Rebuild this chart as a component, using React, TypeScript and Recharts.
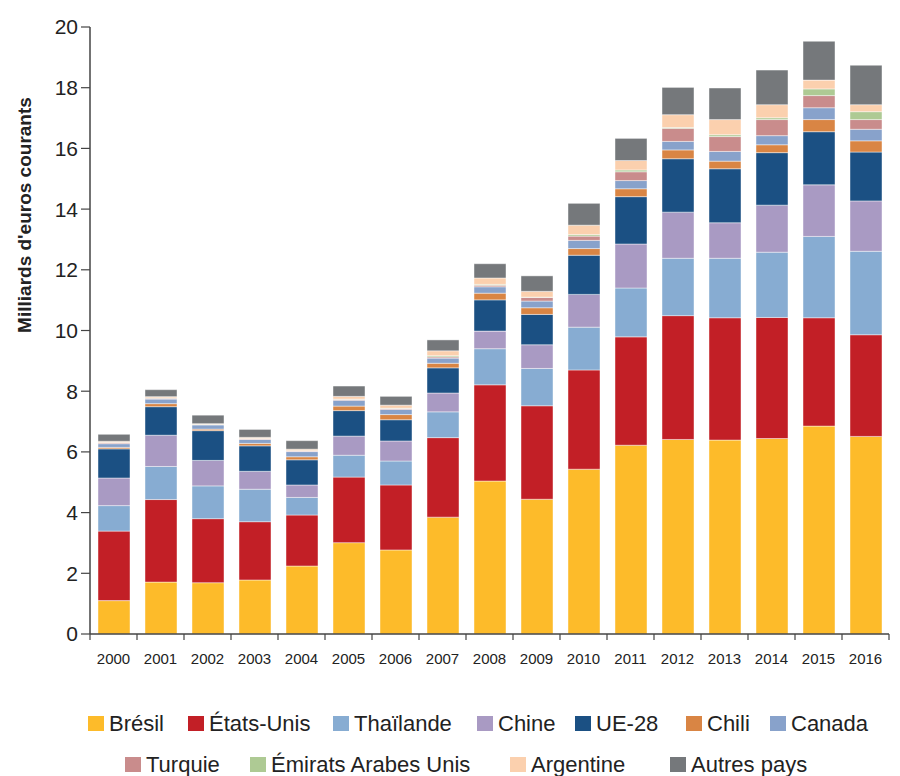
import React from 'react';
import { BarChart, Bar, XAxis, YAxis } from 'recharts';

const YEARS = ['2000', '2001', '2002', '2003', '2004', '2005', '2006', '2007', '2008', '2009', '2010', '2011', '2012', '2013', '2014', '2015', '2016'];

const BRESIL = [1.10, 1.71, 1.69, 1.78, 2.24, 3.01, 2.77, 3.85, 5.04, 4.44, 5.43, 6.22, 6.41, 6.39, 6.44, 6.85, 6.51];
const ETATS_UNIS = [2.29, 2.72, 2.11, 1.92, 1.68, 2.16, 2.14, 2.62, 3.17, 3.08, 3.27, 3.57, 4.08, 4.03, 3.99, 3.57, 3.35];
const THAILANDE = [0.84, 1.09, 1.08, 1.07, 0.58, 0.72, 0.79, 0.85, 1.19, 1.23, 1.41, 1.61, 1.89, 1.96, 2.15, 2.68, 2.75];
const CHINE = [0.91, 1.03, 0.84, 0.59, 0.41, 0.63, 0.66, 0.62, 0.58, 0.78, 1.08, 1.45, 1.52, 1.17, 1.55, 1.70, 1.66];
const UE28 = [0.96, 0.94, 0.98, 0.84, 0.83, 0.84, 0.70, 0.83, 1.03, 1.00, 1.29, 1.56, 1.76, 1.78, 1.73, 1.75, 1.61];
const CHILI = [0.05, 0.10, 0.05, 0.08, 0.10, 0.15, 0.17, 0.15, 0.22, 0.22, 0.22, 0.26, 0.29, 0.25, 0.26, 0.40, 0.37];
const CANADA = [0.12, 0.15, 0.14, 0.13, 0.17, 0.19, 0.17, 0.17, 0.21, 0.22, 0.27, 0.27, 0.28, 0.32, 0.30, 0.39, 0.38];
const TURQUIE = [0.03, 0.03, 0.01, 0.02, 0.02, 0.03, 0.03, 0.04, 0.05, 0.12, 0.14, 0.29, 0.43, 0.49, 0.53, 0.40, 0.32];
const EMIRATS = [0.01, 0.01, 0.01, 0.01, 0.01, 0.01, 0.01, 0.04, 0.03, 0.01, 0.05, 0.06, 0.03, 0.06, 0.06, 0.22, 0.26];
const ARGENTINE = [0.04, 0.04, 0.02, 0.04, 0.05, 0.09, 0.10, 0.16, 0.21, 0.19, 0.31, 0.31, 0.42, 0.50, 0.43, 0.29, 0.23];
const AUTRES = [0.23, 0.23, 0.28, 0.26, 0.28, 0.34, 0.29, 0.36, 0.47, 0.51, 0.72, 0.73, 0.90, 1.04, 1.14, 1.28, 1.30];

const Y_TICKS = [0, 2, 4, 6, 8, 10, 12, 14, 16, 18, 20];

const SERIES = [
  { key: 'bresil', name: 'Brésil', values: BRESIL, color: '#FDBB2A' },
  { key: 'us', name: 'États-Unis', values: ETATS_UNIS, color: '#C21F26' },
  { key: 'thai', name: 'Thaïlande', values: THAILANDE, color: '#87ACD2' },
  { key: 'chine', name: 'Chine', values: CHINE, color: '#A99AC3' },
  { key: 'ue', name: 'UE-28', values: UE28, color: '#1B5083' },
  { key: 'chili', name: 'Chili', values: CHILI, color: '#D98544' },
  { key: 'canada', name: 'Canada', values: CANADA, color: '#88A2CB' },
  { key: 'turquie', name: 'Turquie', values: TURQUIE, color: '#C98C8C' },
  { key: 'emirats', name: 'Émirats Arabes Unis', values: EMIRATS, color: '#AECA94' },
  { key: 'argentine', name: 'Argentine', values: ARGENTINE, color: '#FBD0AE' },
  { key: 'autres', name: 'Autres pays', values: AUTRES, color: '#75787B' },
];

// legend layout (two rows, like the original)
const LEGEND_ROWS = [
  { top: 715, items: [['bresil', 88], ['us', 188], ['thai', 333], ['chine', 477], ['ue', 575], ['chili', 686], ['canada', 770]] },
  { top: 756, items: [['turquie', 125], ['emirats', 250], ['argentine', 510], ['autres', 670]] },
];

const data = YEARS.map((year, i) => {
  const row: Record<string, any> = { year };
  SERIES.forEach((s) => { row[s.key] = s.values[i]; });
  return row;
});

const FONT = '"Liberation Sans", Arial, sans-serif';
const CHART_W = 900;
const Y_AXIS_W = 90;
const RIGHT = 11;
const BAND = (CHART_W - Y_AXIS_W - RIGHT) / YEARS.length;

const YearTick = (props: any) => {
  const { x, y, payload, index } = props;
  const half = BAND / 2;
  return (
    <g>
      <line x1={x - half} x2={x - half} y1={y} y2={y + 6} stroke="#444" strokeWidth={1.2} />
      {index === YEARS.length - 1 && (
        <line x1={x + half} x2={x + half} y1={y} y2={y + 6} stroke="#444" strokeWidth={1.2} />
      )}
      <text x={x} y={y + 30} textAnchor="middle" fontSize={15} fill="#222" fontFamily={FONT}>
        {payload.value}
      </text>
    </g>
  );
};

export default function App() {
  const byKey: Record<string, any> = {};
  SERIES.forEach((s) => { byKey[s.key] = s; });

  return (
    <div style={{ position: 'absolute', left: 0, top: 0, width: 900, height: 776, background: '#fff', fontFamily: FONT, overflow: 'hidden' }}>
      <BarChart
        width={CHART_W}
        height={680}
        data={data}
        margin={{ top: 27, right: RIGHT, left: 0, bottom: 0 }}
        barSize={32}
      >
        <XAxis
          dataKey="year"
          height={46}
          tickLine={false}
          tickSize={0}
          tickMargin={0}
          interval={0}
          axisLine={{ stroke: '#444', strokeWidth: 1.5 }}
          tick={<YearTick />}
        />
        <YAxis
          width={Y_AXIS_W}
          domain={[0, 20]}
          ticks={Y_TICKS}
          interval={0}
          tickSize={9}
          tickMargin={3}
          axisLine={{ stroke: '#444', strokeWidth: 1.5 }}
          tickLine={{ stroke: '#444', strokeWidth: 1.2 }}
          tick={{ fontSize: 21, fill: '#222', fontFamily: FONT }}
        />
        {SERIES.map((s) => (
          <Bar
            key={s.key}
            dataKey={s.key}
            name={s.name}
            stackId="a"
            fill={s.color}
            stroke="rgba(255,255,255,0.55)"
            strokeWidth={0.8}
            isAnimationActive={false}
          />
        ))}
      </BarChart>

      <div
        style={{
          position: 'absolute',
          left: 25,
          top: 215,
          transform: 'translate(-50%, -50%) rotate(-90deg)',
          whiteSpace: 'nowrap',
          fontSize: 19,
          fontWeight: 'bold',
          color: '#222',
        }}
      >
        Milliards d'euros courants
      </div>

      {LEGEND_ROWS.map((row, r) =>
        row.items.map(([key, left]) => {
          const s = byKey[key as string];
          return (
            <div
              key={`${r}-${key}`}
              style={{ position: 'absolute', left: left as number, top: row.top, display: 'flex', alignItems: 'center', whiteSpace: 'nowrap' }}
            >
              <span style={{ display: 'inline-block', width: 16, height: 15, background: s.color, marginRight: 5 }} />
              <span style={{ fontSize: 22, color: '#222', lineHeight: '17px' }}>{s.name}</span>
            </div>
          );
        })
      )}
    </div>
  );
}
